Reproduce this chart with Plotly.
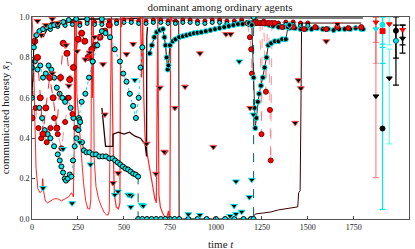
import plotly.graph_objects as go

# ---------------- data ----------------
red_low_t = [0, 6, 14, 22, 32, 44, 54, 58, 63, 72, 85, 100, 120, 140, 160, 180, 200, 215, 225, 229, 232, 236, 240, 244, 250, 258, 268, 280, 292, 304, 314, 320, 324, 328, 333, 338, 348, 362, 378, 394, 406, 414, 420, 426, 432]
red_low_v = [1.0, 0.9, 0.55, 0.25, 0.15, 0.13, 0.14, 0.2, 0.14, 0.09, 0.08, 0.09, 0.1, 0.1, 0.09, 0.1, 0.11, 0.13, 0.11, 0.3, 1.0, 0.5, 1.0, 0.62, 0.55, 0.45, 0.3, 0.18, 0.09, 0.05, 0.05, 0.1, 1.0, 0.6, 1.0, 0.3, 0.16, 0.1, 0.06, 0.03, 0.02, 0.02, 0.04, 0.5, 1.0]

red_mid_t = [432, 440, 448, 458, 470, 478, 482, 486, 495, 560, 590, 596, 602, 608, 615, 625, 640, 655, 668, 676, 680, 684, 690, 698, 710, 722, 735, 742, 746, 750, 754, 758, 762]
red_mid_v = [1.0, 0.4, 0.12, 0.06, 0.05, 0.08, 1.0, 0.95, 1.0, 1.0, 1.0, 0.7, 1.0, 0.6, 0.4, 0.33, 0.25, 0.16, 0.1, 0.08, 1.0, 1.0, 0.12, 0.06, 0.03, 0.01, 0.01, 0.04, 0.01, 0.01, 1.0, 1.0, 0.98]

dark_t = [760, 790, 798, 800, 805, 900, 1000, 1100, 1190, 1200, 1215, 1260, 1300, 1340, 1380, 1420, 1445, 1450, 1458, 1462, 1466, 1500, 1600, 1700, 1790]
dark_v = [0.98, 0.98, 0.98, 0.0, 0.0, 0.0, 0.0, 0.0, 0.0, 0.01, 0.025, 0.03, 0.035, 0.045, 0.05, 0.055, 0.06, 0.13, 0.14, 0.5, 0.97, 0.97, 0.97, 0.97, 0.97]

blk_mid_t = [380, 400, 420, 440, 441, 470, 500, 530, 560, 590, 615, 620, 623, 624, 628]
blk_mid_v = [0.55, 0.36, 0.36, 0.36, 0.42, 0.43, 0.42, 0.43, 0.41, 0.40, 0.37, 0.31, 0.31, 0.9, 0.95]

cyd_t = [262, 272, 282, 296, 312, 330, 348, 366, 384, 402, 420, 438, 452, 466, 480, 494, 508, 522, 536, 550, 564, 577, 577, 600, 625, 650, 675, 700, 725, 750, 775, 800, 850, 900, 950, 1000, 1050, 1100, 1150, 1190, 1205, 1205]
cyd_v = [0.48, 0.38, 0.34, 0.33, 0.33, 0.32, 0.32, 0.31, 0.31, 0.31, 0.30, 0.30, 0.29, 0.28, 0.27, 0.26, 0.25, 0.245, 0.235, 0.225, 0.22, 0.21, 0.0, 0.0, 0.0, 0.0, 0.0, 0.0, 0.0, 0.0, 0.0, 0.0, 0.0, 0.0, 0.0, 0.0, 0.0, 0.0, 0.0, 0.0, 0.0, 1.0]

arc_t = [640, 652, 665, 678, 695, 712, 720, 726, 732, 738, 742, 750, 765, 780, 800, 820, 840, 860, 880, 900, 920, 945, 970, 995, 1020, 1045, 1070, 1095, 1120, 1145, 1170, 1190, 1210, 1230, 1250, 1270, 1290, 1310, 1340, 1370, 1400, 1430, 1460, 1490, 1520, 1550, 1580, 1610, 1640, 1670, 1700, 1730, 1760, 1790, 1800]
arc_v = [0.82, 0.86, 0.9, 0.925, 0.935, 0.94, 0.9, 0.86, 0.8, 0.74, 0.76, 0.86, 0.88, 0.89, 0.9, 0.905, 0.91, 0.915, 0.92, 0.922, 0.925, 0.93, 0.935, 0.94, 0.945, 0.95, 0.955, 0.96, 0.965, 0.965, 0.97, 0.97, 0.97, 0.97, 0.97, 0.965, 0.96, 0.955, 0.95, 0.95, 0.945, 0.945, 0.94, 0.94, 0.94, 0.945, 0.94, 0.94, 0.935, 0.94, 0.94, 0.94, 0.945, 0.94, 0.94]

red_dive_t = [1170, 1185, 1192, 1196, 1200, 1210, 1225, 1240, 1248, 1252, 1260, 1272, 1280, 1288, 1294, 1298, 1305, 1320, 1360, 1420, 1480, 1540, 1600, 1660, 1720, 1790]
red_dive_v = [0.97, 0.9, 0.84, 0.72, 0.97, 0.97, 0.97, 0.97, 0.42, 0.97, 0.97, 0.63, 0.97, 0.97, 0.54, 0.29, 0.97, 0.97, 0.95, 0.95, 0.94, 0.95, 0.94, 0.95, 0.945, 0.95]

cb_dive_t = [1180, 1195, 1205, 1210, 1214, 1220, 1228, 1235, 1245, 1255, 1265, 1275, 1285, 1300, 1320, 1340, 1360, 1380, 1392, 1400]
cb_dive_v = [0.97, 0.96, 0.7, 0.55, 0.45, 0.5, 0.58, 0.62, 0.66, 0.7, 0.75, 0.8, 0.86, 0.87, 0.88, 0.88, 0.89, 0.89, 0.95, 0.96]

top_t = [60, 100, 150, 200, 300, 400, 500, 600, 700, 800, 900, 1000, 1100, 1200, 1300, 1400, 1500, 1600, 1700, 1800]
top_v = [0.9, 0.97, 0.98, 0.985, 0.99, 0.99, 0.99, 0.995, 0.995, 0.995, 0.995, 0.995, 0.995, 0.995, 0.995, 0.995, 0.995, 0.995, 0.995, 0.995]
band_t = [100, 140, 180, 220, 260, 300, 340, 380, 420, 460, 500, 540, 580, 620, 660, 700, 740, 780, 820, 860, 900, 940, 980, 1020, 1060, 1100, 1140, 1180, 1220, 1260, 1300, 1340, 1380, 1420, 1460, 1500]
band_v = [0.95, 0.965, 0.97, 0.975, 0.97, 0.98, 0.975, 0.975, 0.98, 0.98, 0.985, 0.985, 0.98, 0.98, 0.985, 0.985, 0.98, 0.98, 0.985, 0.985, 0.98, 0.98, 0.985, 0.985, 0.98, 0.98, 0.985, 0.975, 0.98, 0.98, 0.97, 0.97, 0.975, 0.975, 0.97, 0.97]

blk_left_t = [0, 10, 24, 40, 60, 80, 100, 120, 140, 170, 200, 240, 300, 380]
blk_left_v = [0.6, 0.85, 0.91, 0.93, 0.94, 0.95, 0.955, 0.96, 0.965, 0.975, 0.985, 0.99, 0.99, 0.99]

cyan_u_t = [40, 55, 69, 85, 100, 120, 140, 151, 160, 169, 178, 185, 195, 205, 214, 223, 232, 242, 251, 258]
cyan_u_v = [0.55, 0.5, 0.44, 0.42, 0.4, 0.36, 0.32, 0.29, 0.26, 0.23, 0.2, 0.19, 0.2, 0.22, 0.21, 0.29, 0.36, 0.4, 0.44, 0.49]

cyan_a_t = [0, 15, 30, 45, 60, 75, 90, 105, 120, 135, 150, 165, 180, 195, 210, 225, 240, 255, 270, 290, 310, 330]
cyan_a_v = [0.75, 0.78, 0.74, 0.76, 0.7, 0.72, 0.76, 0.74, 0.7, 0.65, 0.62, 0.6, 0.58, 0.6, 0.55, 0.5, 0.45, 0.5, 0.58, 0.62, 0.7, 0.78]

cyan_b_t = [330, 355, 380, 400, 424, 450, 478, 496, 514, 532, 550, 565, 580, 590, 600]
cyan_b_v = [0.78, 0.86, 0.93, 0.92, 0.9, 0.84, 0.78, 0.72, 0.68, 0.62, 0.56, 0.5, 0.6, 0.75, 0.85]

red_c1_t = [0, 15, 30, 45, 60, 75, 96, 115, 135, 155, 170, 190, 205, 225, 251, 270, 287, 305, 325, 345, 370, 396, 420]
red_c1_v = [0.5, 0.88, 0.8, 0.6, 0.42, 0.55, 0.7, 0.6, 0.45, 0.7, 0.87, 0.82, 0.69, 0.75, 0.89, 0.92, 0.88, 0.8, 0.84, 0.86, 0.9, 0.93, 0.96]
red_c2_t = [20, 35, 50, 65, 80, 100, 120, 140, 160, 180, 200, 220, 240]
red_c2_v = [0.55, 0.45, 0.4, 0.42, 0.38, 0.45, 0.5, 0.42, 0.35, 0.48, 0.6, 0.52, 0.45]

tri_red_t = [51, 386, 514, 550, 396, 314, 777, 832, 695, 913, 1055, 1080, 1600, 1661, 1449, 1462, 1431, 1186, 986, 723, 674, 623, 719, 441, 469, 30, 75, 110, 140, 185, 245, 290, 340, 200, 110]
tri_red_v = [0.91, 0.766, 0.816, 0.866, 0.517, 0.824, 0.55, 0.655, 0.65, 0.82, 0.915, 0.915, 0.88, 0.965, 0.687, 0.647, 0.476, 0.55, 0.357, 0.33, 0.224, 0.373, 0.333, 0.178, 0.227, 0.98, 0.96, 0.99, 0.97, 0.86, 0.83, 0.79, 0.9, 0.66, 0.72]
tri_cyan_t = [559, 1127, 1204, 1109, 1195, 1182, 1099, 1140, 1109, 1077, 913, 523, 541, 537, 596, 850, 60, 218, 169, 318, 450, 468, 532, 605, 260]
tri_cyan_v = [0.688, 0.78, 0.517, 0.186, 0.194, 0.108, 0.065, 0.036, 0.025, 0.015, 0.02, 0.12, 0.115, 0.06, 0.07, 0.023, 0.153, 0.078, 0.347, 0.27, 0.12, 0.136, 0.12, 0.065, 0.38]

# summary columns at the right: (x, centre, low, high)
eb1_t = [1870, 1870, 1870]
eb1_c = [0.974, 0.94, 0.608]
eb1_lo = [0.874, 0.771, 0.205]
eb1_hi = [1.0, 1.0, 1.0]
eb2_t = [1906, 1906, 1906]
eb2_c = [0.962, 0.93, 0.448]
eb2_lo = [0.866, 0.77, 0.048]
eb2_hi = [1.0, 1.0, 0.85]
eb3_t = [1943, 1943]
eb3_c = [0.965, 0.697]
eb3_lo = [0.862, 0.372]
eb3_hi = [1.0, 0.841]
eb4_t = [1979, 1979]
eb4_c = [0.932, 0.882]
eb4_lo = [0.663, 0.796]
eb4_hi = [1.0, 0.96]
eb5_t = [2015, 2015]
eb5_c = [0.937, 0.894]
eb5_lo = [0.862, 0.821]
eb5_hi = [0.96, 0.96]

x_ticks = [0, 250, 500, 750, 1000, 1250, 1500, 1750]
y_ticks = [0.0, 0.2, 0.4, 0.6, 0.8, 1.0]

# ---------------- styles ----------------
RED = "rgba(255,0,0,0.85)"
LRED = "rgba(255,80,80,0.6)"
CYAN = "#00e8e8"
LCYAN = "rgba(0,235,235,0.55)"
BLACK = "#000000"

fig = go.Figure()

def line(t, v, color, width=1.0, dash="solid"):
    fig.add_trace(go.Scatter(x=t, y=v, mode="lines", line=dict(color=color, width=width, dash=dash),
                             hoverinfo="skip", showlegend=False))

def mline(t, v, lcolor, fill, edge, size=5, width=1.0, dash="solid", symbol="circle"):
    fig.add_trace(go.Scatter(x=t, y=v, mode="lines+markers", line=dict(color=lcolor, width=width, dash=dash),
                             marker=dict(symbol=symbol, size=size, color=fill, line=dict(color=edge, width=1)),
                             hoverinfo="skip", showlegend=False))

def pts(t, v, fill, edge, size=5, symbol="triangle-down"):
    fig.add_trace(go.Scatter(x=t, y=v, mode="markers",
                             marker=dict(symbol=symbol, size=size, color=fill, line=dict(color=edge, width=1)),
                             hoverinfo="skip", showlegend=False))

# top bands
line(top_t, top_v, BLACK, 1.2)
mline(band_t, band_v, LRED, "red", "#800000", size=4, dash="dot")
mline(band_t, [x - 0.012 for x in band_v], LCYAN, CYAN, BLACK, size=4, dash="dot")

# lower red traces
line(red_low_t, red_low_v, RED, 1.0)
line(red_mid_t, red_mid_v, RED, 1.2)
line(dark_t, dark_v, "#3a0000", 1.0)
line(blk_mid_t, blk_mid_v, "#300000", 1.3)

# left clutter
mline(cyan_a_t, cyan_a_v, CYAN, CYAN, BLACK, size=5, dash="dot")
mline(red_c2_t, red_c2_v, LRED, "red", "#700000", size=5, dash="dash")
mline(cyan_u_t, cyan_u_v, CYAN, CYAN, BLACK, size=5, dash="dot")
mline(red_c1_t, red_c1_v, RED, "red", "#700000", size=6, dash="dash")
mline(cyan_b_t, cyan_b_v, CYAN, CYAN, BLACK, size=5, dash="dot")
mline(blk_left_t, blk_left_v, BLACK, CYAN, BLACK, size=5)

# descending cyan series and zero floor
mline(cyd_t, cyd_v, "#006060", CYAN, BLACK, size=5, dash="dash")

# arc and dives
mline(arc_t, arc_v, "#303030", BLACK, CYAN, size=5, width=1.2)
mline(red_dive_t, red_dive_v, LRED, "red", "#800000", size=5, dash="dash")
mline(cb_dive_t, cb_dive_v, "#303030", BLACK, CYAN, size=5)

# triangles
pts(tri_red_t, tri_red_v, BLACK, "#ff5050", size=6)
pts(tri_cyan_t, tri_cyan_v, BLACK, CYAN, size=6)

# summary error columns
def ebar(t, c, lo, hi, color, sym, fills, edges):
    fig.add_trace(go.Scatter(x=t, y=c, mode="markers",
                             marker=dict(size=0.1, color=color, opacity=0),
                             error_y=dict(type="data", symmetric=False,
                                          array=[h - m for h, m in zip(hi, c)],
                                          arrayminus=[m - l for m, l in zip(c, lo)],
                                          color=color, thickness=1.2, width=3),
                             hoverinfo="skip", showlegend=False))
    fig.add_trace(go.Scatter(x=t, y=c, mode="markers",
                             marker=dict(symbol=sym, size=5, color=fills, line=dict(color=edges, width=1)),
                             hoverinfo="skip", showlegend=False))

ebar(eb1_t, eb1_c, eb1_lo, eb1_hi, "rgba(255,60,60,0.6)",
     ["triangle-down", "triangle-down", "triangle-down"], ["red", CYAN, BLACK], ["red", CYAN, BLACK])
ebar(eb2_t, eb2_c, eb2_lo, eb2_hi, CYAN,
     ["circle", "square", "circle"], [CYAN, "red", BLACK], [CYAN, "red", BLACK])
ebar(eb3_t, eb3_c, eb3_lo, eb3_hi, "rgba(0,235,235,0.55)",
     ["triangle-down", "triangle-down"], ["red", BLACK], ["red", BLACK])
ebar(eb4_t, eb4_c, eb4_lo, eb4_hi, BLACK,
     ["circle", "circle"], [BLACK, CYAN], [BLACK, "#006060"])
ebar(eb5_t, eb5_c, eb5_lo, eb5_hi, BLACK,
     ["triangle-down", "triangle-down"], ["red", BLACK], ["red", BLACK])

FONT = "Liberation Serif"
fig.update_layout(
    width=415, height=249,
    margin=dict(l=32, r=6, t=17, b=30),
    paper_bgcolor="white", plot_bgcolor="white",
    font=dict(family=FONT, size=8, color="#222"),
    title=dict(text="dominant among ordinary agents", x=0.53, xanchor="center", y=0.985, yanchor="top",
               font=dict(family=FONT, size=11, color="#222")),
    showlegend=False,
    annotations=[
        dict(text="time <i>t</i>", xref="paper", yref="paper", x=0.5, y=-0.085, xanchor="center", yanchor="top",
             showarrow=False, font=dict(family=FONT, size=11, color="#222")),
        dict(text="communicated honesty <i>x̄</i><sub><i>J</i></sub>", xref="paper", yref="paper",
             x=-0.068, y=0.5, xanchor="center", yanchor="middle", textangle=-90,
             showarrow=False, font=dict(family=FONT, size=11, color="#222")),
    ],
)
fig.update_xaxes(range=[0, 2050], tickvals=x_ticks, automargin=False,
                 ticks="inside", ticklen=3, tickcolor="#444", showgrid=False, zeroline=False,
                 showline=True, mirror=True, linecolor="#555", linewidth=1,
                 tickfont=dict(family=FONT, size=8))
fig.update_yaxes(range=[0, 1.0], tickvals=y_ticks, tickformat=".1f", automargin=False,
                 ticks="inside", ticklen=3, tickcolor="#444", showgrid=False, zeroline=False,
                 showline=True, mirror=True, linecolor="#555", linewidth=1,
                 tickfont=dict(family=FONT, size=8))

fig.write_html("out.html", config={"displayModeBar": False},
               post_script="document.body.style.margin='0';document.body.style.overflow='hidden';")
